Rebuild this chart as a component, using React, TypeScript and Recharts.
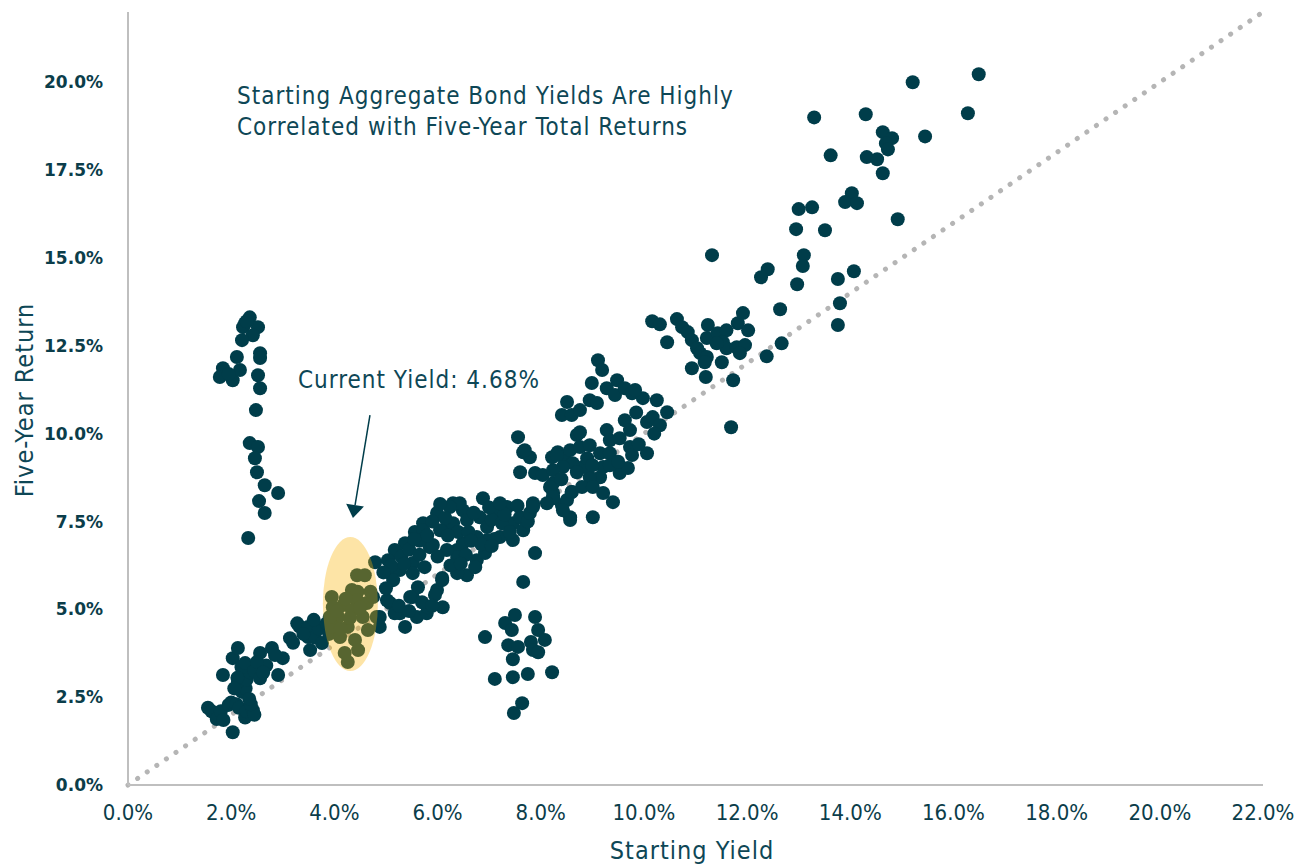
import React from 'react';
import { ScatterChart, Scatter, XAxis, YAxis, ReferenceLine, ReferenceDot } from 'recharts';

// [starting yield %, five-year return %]
const lowYieldCluster: [number, number][] = [
  [1.55, 2.2], [1.62, 2.1], [1.7, 2.0], [1.72, 1.88], [1.8, 2.1], [1.85, 1.85], [1.95, 2.28], [2.03, 1.5],
  [2.0, 2.35], [2.1, 2.3], [2.15, 2.2], [2.27, 1.92], [2.3, 2.1], [2.42, 2.13], [2.45, 2.0], [2.38, 2.3],
  [2.21, 2.65], [2.28, 2.75], [2.13, 2.93], [2.3, 3.0], [2.36, 3.21], [1.84, 3.13], [2.03, 3.61], [2.13, 3.9],
  [2.2, 3.35], [2.27, 3.47], [2.45, 3.25], [2.56, 3.04], [2.56, 3.76], [2.68, 3.4], [2.79, 3.9], [2.91, 3.13],
  [3.0, 3.61], [2.85, 3.7], [3.14, 4.18], [3.33, 4.5], [3.49, 4.21], [3.53, 3.84], [2.12, 3.05], [2.5, 3.5],
  [2.06, 2.75], [2.35, 2.45], [2.62, 3.2], [3.2, 4.05],
  [3.28, 4.6], [3.49, 4.5], [3.62, 4.2], [3.76, 4.04], [3.7, 4.45], [3.85, 4.6], [3.6, 4.7], [3.4, 4.3], [3.9, 4.3],
];

const currentYieldCluster: [number, number][] = [
  [4.44, 5.97], [4.59, 5.97], [3.95, 5.35], [4.34, 5.55], [4.45, 5.5], [4.17, 5.12], [4.44, 5.26], [4.63, 5.18],
  [4.75, 5.35], [4.07, 4.78], [4.34, 4.98], [4.55, 4.78], [4.82, 4.78], [3.97, 4.5], [4.26, 4.5], [4.65, 4.41],
  [4.11, 4.21], [4.4, 4.13], [4.2, 3.76], [4.46, 3.84], [4.26, 3.5], [3.91, 4.78], [3.97, 5.06], [4.22, 5.3],
  [4.5, 5.05], [4.05, 4.95], [4.3, 4.75], [4.7, 5.5], [4.12, 4.45],
];

const midCluster: [number, number][] = [
  [4.79, 6.34], [4.88, 4.5], [4.88, 4.78], [5.08, 6.03], [5.08, 5.18], [5.27, 6.12], [5.21, 6.6], [5.37, 6.88],
  [5.56, 7.2], [5.52, 5.35], [5.62, 5.63], [5.37, 4.5], [5.27, 4.89], [5.6, 4.78], [5.79, 4.89], [5.99, 5.55],
  [6.1, 5.06], [6.09, 5.89], [5.72, 7.45], [5.99, 7.74], [6.18, 7.34], [6.3, 8.02], [6.49, 7.82], [6.38, 6.69],
  [6.57, 5.97], [6.76, 6.4], [6.88, 8.16], [6.92, 4.21], [5.85, 6.77], [5.52, 6.32],
  [6.43, 8.02], [6.24, 7.91], [5.72, 7.25], [5.17, 6.69], [5.04, 6.4], [5.14, 5.83], [5.52, 6.03], [5.47, 5.35],
  [5.02, 5.26], [5.17, 4.89], [5.95, 5.41], [5.81, 5.06], [6.09, 5.83], [6.38, 6.03], [6.73, 6.2], [6.38, 6.49],
  [6.18, 6.69], [5.91, 6.83], [6.05, 7.25], [6.3, 7.45], [6.57, 7.54], [6.82, 7.62], [6.96, 7.34], [7.15, 7.74],
  [7.35, 7.91], [7.46, 7.45], [7.6, 7.62], [7.66, 7.25], [7.46, 6.97], [6.96, 6.97], [7.21, 7.06], [6.92, 6.6],
  [6.76, 7.06], [6.49, 6.88], [7.85, 7.97], [8.24, 8.31], [8.41, 7.97], [8.57, 7.62], [8.24, 8.59], [8.6, 8.34],
  [7.89, 6.6], [7.66, 5.78],
  [5.3, 6.5], [5.45, 6.7], [5.65, 6.95], [5.8, 7.1], [5.9, 7.5], [6.15, 7.6], [6.4, 7.2], [6.6, 7.2],
  [6.7, 7.75], [7.05, 7.55], [7.25, 7.45], [7.4, 7.2], [7.1, 7.0], [6.85, 6.85], [5.1, 6.25], [4.95, 6.05],
  [5.0, 5.6], [6.25, 6.25], [6.55, 6.55], [7.0, 7.9], [7.55, 7.95], [6.2, 7.1], [5.65, 6.55],
  [5.25, 5.1], [5.45, 4.95], [5.7, 5.2], [5.9, 5.1], [5.35, 6.3], [5.75, 6.2], [6.0, 6.5], [6.45, 6.3],
  [6.65, 6.95], [7.3, 7.7], [7.75, 7.5], [6.05, 8.0], [5.55, 7.0], [7.05, 6.8],
];

const lowReturnCluster: [number, number][] = [
  [7.5, 4.84], [7.89, 4.78], [7.31, 4.61], [7.44, 4.41], [7.95, 4.41], [8.08, 4.13], [7.37, 3.98], [7.56, 3.93],
  [7.81, 4.07], [7.85, 3.84], [7.95, 3.78], [7.46, 3.58], [8.22, 3.21], [7.75, 3.16], [7.46, 3.07], [7.11, 3.02],
  [7.64, 2.33], [7.48, 2.05],
];

const upperMidCluster: [number, number][] = [
  [7.56, 9.9], [7.66, 9.47], [7.79, 9.33], [7.6, 8.9], [7.89, 8.88], [8.04, 8.82], [8.22, 9.33], [8.33, 9.47],
  [8.47, 9.25], [8.18, 8.48], [8.24, 8.16], [8.51, 8.11], [8.57, 7.54], [8.7, 9.96], [7.21, 8.02], [7.85, 8.02],
  [7.79, 7.74],
  [9.11, 12.09], [9.19, 11.81], [8.99, 11.44], [8.95, 10.95], [9.09, 10.87], [9.28, 11.29], [9.48, 11.52], [9.44, 11.1],
  [9.63, 11.29], [9.77, 11.15], [9.98, 11.01], [10.25, 10.95], [10.45, 10.61], [8.51, 10.9], [8.41, 10.53], [8.6, 10.53],
  [8.76, 10.67], [9.63, 10.38], [10.06, 10.33], [10.17, 10.47], [10.31, 10.24], [9.28, 10.1], [8.76, 10.04], [9.73, 10.1],
  [7.69, 9.53], [8.31, 9.39], [8.57, 9.53], [8.76, 9.62], [8.95, 9.67], [9.15, 9.44], [9.34, 9.81], [9.53, 9.87],
  [9.73, 9.62], [10.06, 9.44], [9.77, 9.39], [9.34, 9.44], [9.53, 8.88], [9.69, 9.02], [9.15, 8.76], [8.95, 8.76],
  [9.21, 9.05], [9.34, 9.1], [8.82, 9.05], [8.62, 9.16], [8.43, 9.05], [8.24, 8.96], [8.6, 8.34], [8.8, 8.48],
  [9.01, 8.48], [9.21, 8.31], [9.4, 8.05], [9.01, 7.62], [8.24, 8.19], [8.12, 8.02], [7.85, 7.91], [8.43, 7.82],
  [8.9, 9.3], [9.0, 9.1], [8.7, 8.9], [9.5, 9.2], [9.9, 9.7], [10.2, 10.0], [8.4, 8.7], [9.85, 10.6], [9.83, 11.24],
];

const highYieldCluster: [number, number][] = [
  [10.16, 13.2], [10.31, 13.11], [10.45, 12.6], [10.64, 13.26], [10.74, 13.03], [10.85, 12.89], [10.93, 12.66], [11.03, 12.43],
  [11.09, 12.29], [11.22, 12.18], [11.18, 12.03], [10.93, 11.86], [11.2, 11.61], [11.24, 13.09], [11.22, 12.72], [11.43, 12.86],
  [11.6, 12.94], [11.53, 12.6], [11.6, 12.43], [11.41, 12.57], [11.51, 12.03], [11.82, 13.14], [11.92, 13.43], [12.02, 12.94],
  [11.8, 12.46], [11.96, 12.52], [11.86, 12.29], [11.73, 11.52], [12.38, 12.2], [12.67, 12.57], [12.64, 13.54], [11.69, 10.18],
  [16.49, 20.23], [15.21, 20.0], [16.28, 19.12], [14.3, 19.09], [13.3, 19.0], [15.45, 18.46], [14.63, 18.58], [14.81, 18.41],
  [14.69, 18.26], [14.73, 18.09], [13.62, 17.92], [14.32, 17.87], [14.52, 17.81], [14.63, 17.41], [14.03, 16.84], [13.9, 16.59],
  [14.13, 16.56], [14.92, 16.1], [13.0, 16.39], [13.26, 16.44], [12.95, 15.82], [13.51, 15.79], [11.32, 15.08], [13.1, 15.08],
  [13.08, 14.77], [12.4, 14.68], [12.27, 14.45], [12.97, 14.25], [13.76, 14.4], [14.07, 14.62], [13.8, 13.71], [13.76, 13.09],
];

const lowYieldHighReturn: [number, number][] = [
  [2.36, 13.31], [2.27, 13.14], [2.23, 13.03], [2.52, 13.03], [2.42, 12.8], [2.21, 12.66], [2.56, 12.29], [2.11, 12.18],
  [2.56, 12.15], [1.84, 11.86], [1.78, 11.61], [2.03, 11.52], [2.17, 11.81], [2.52, 11.66], [2.56, 11.29], [2.48, 10.67],
  [2.36, 9.73], [2.52, 9.62], [2.46, 9.3], [2.5, 8.9], [2.65, 8.53], [2.91, 8.31], [2.54, 8.08], [2.65, 7.74],
  [2.33, 7.03], [1.95, 11.7], [2.3, 13.2],
];

const xTicks = [0, 2, 4, 6, 8, 10, 12, 14, 16, 18, 20, 22];
const yTicks = [0, 2.5, 5, 7.5, 10, 12.5, 15, 17.5, 20];
const currentYield = 4.68;

const points = [
  ...lowYieldCluster, ...currentYieldCluster, ...midCluster, ...lowReturnCluster,
  ...upperMidCluster, ...highYieldCluster, ...lowYieldHighReturn,
].map(([x, y]) => ({ x, y }));

const DOT = '#003d4a';
const TEXT = '#0e4756';
const CONDENSED = '"DejaVu Sans Condensed", "Liberation Sans Narrow", "DejaVu Sans", sans-serif';

const pct = (v: number) => `${v.toFixed(1)}%`;

const Arrow = (p: any) => {
  const { x1, y1, x2, y2 } = p;
  const dx = x2 - x1;
  const dy = y2 - y1;
  const len = Math.sqrt(dx * dx + dy * dy) || 1;
  const ux = dx / len;
  const uy = dy / len;
  const bx = x2 - ux * 13;
  const by = y2 - uy * 13;
  return (
    <g>
      <line x1={x1} y1={y1} x2={bx} y2={by} stroke={DOT} strokeWidth={1.5} />
      <polygon
        points={`${x2},${y2} ${bx - uy * 9},${by + ux * 9} ${bx + uy * 9},${by - ux * 9}`}
        fill={DOT}
      />
    </g>
  );
};

const labelStyle: React.CSSProperties = {
  fontFamily: CONDENSED,
  fontSize: 24,
  letterSpacing: 1,
  lineHeight: '31px',
  color: TEXT,
  whiteSpace: 'nowrap',
};

export default function App() {
  return (
    <div style={{ position: 'fixed', left: 0, top: 0, width: 1302, height: 865, background: '#fff', overflow: 'hidden' }}>
      <ScatterChart width={1302} height={865} margin={{ top: 12, right: 39, bottom: 0, left: 0 }}>
        <XAxis
          type="number"
          dataKey="x"
          domain={[0, 22]}
          ticks={xTicks}
          tickFormatter={pct}
          height={80}
          axisLine={{ stroke: '#bfbfbf', strokeWidth: 2 }}
          tickLine={false}
          tickSize={0}
          tickMargin={19}
          tick={{ fill: '#0b3d4a', fontSize: 22, fontFamily: CONDENSED }}
        />
        <YAxis
          type="number"
          dataKey="y"
          domain={[0, 22]}
          ticks={yTicks}
          tickFormatter={pct}
          width={128}
          axisLine={{ stroke: '#bfbfbf', strokeWidth: 2 }}
          tickLine={false}
          tickSize={0}
          tickMargin={25}
          tick={{ fill: '#0b3d4a', fontSize: 17, fontWeight: 'bold', fontFamily: '"DejaVu Sans", sans-serif' }}
        />
        <ReferenceLine
          segment={[{ x: 0, y: 0 }, { x: 22, y: 22 }]}
          stroke="#b5b5b5"
          strokeWidth={5}
          strokeDasharray="0.1 11.5"
          strokeLinecap="round"
          zIndex={100}
        />
        <Scatter
          data={points}
          isAnimationActive={false}
          fill={DOT}
          shape={(p: any) => <circle cx={p.cx} cy={p.cy} r={7} fill={DOT} />}
        />
        <ReferenceDot
          x={4.31}
          y={5.15}
          zIndex={1000}
          shape={(p: any) => (
            <ellipse cx={p.cx} cy={p.cy} rx={27.5} ry={67} fill="#f9b200" fillOpacity={0.35} />
          )}
        />
        <ReferenceLine
          segment={[{ x: 4.69, y: 10.53 }, { x: 4.36, y: 7.6 }]}
          zIndex={1000}
          shape={Arrow}
        />
      </ScatterChart>

      <div style={{ ...labelStyle, position: 'absolute', left: 237, top: 81 }}>
        Starting Aggregate Bond Yields Are Highly
        <br />
        Correlated with Five-Year Total Returns
      </div>
      <div style={{ ...labelStyle, position: 'absolute', left: 298, top: 365 }}>
        Current Yield: {currentYield.toFixed(2)}%
      </div>
      <div style={{ position: 'absolute', left: 25, top: 400, width: 0, height: 0 }}>
        <div style={{ ...labelStyle, fontSize: 25, position: 'absolute', left: -150, top: -15, width: 300, textAlign: 'center', transform: 'rotate(-90deg)', lineHeight: '30px' }}>
          Five-Year Return
        </div>
      </div>
      <div style={{ ...labelStyle, fontSize: 25, position: 'absolute', left: 542, top: 836, width: 300, textAlign: 'center', lineHeight: '30px' }}>
        Starting Yield
      </div>
    </div>
  );
}
